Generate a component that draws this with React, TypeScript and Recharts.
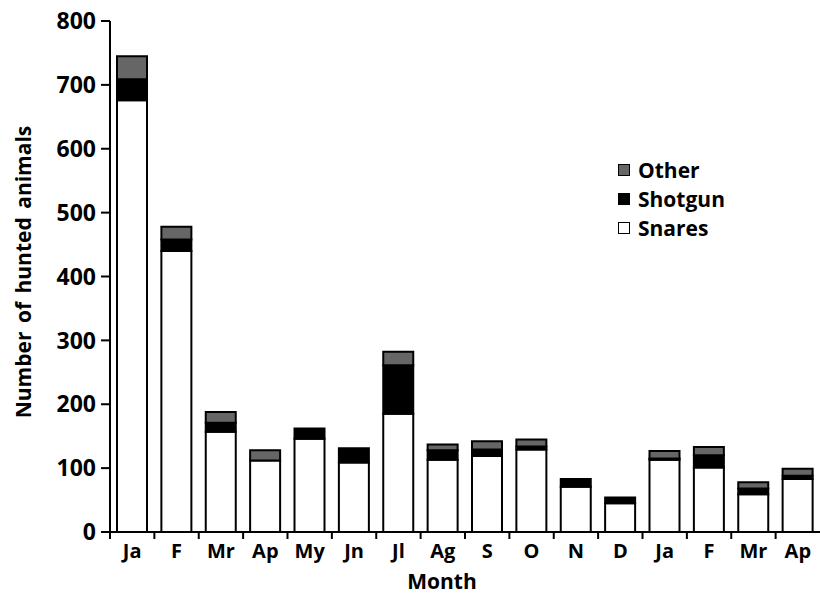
import React from "react";
import { Bar, BarChart, XAxis, YAxis } from "recharts";

const months: string[] = ["Ja", "F", "Mr", "Ap", "My", "Jn", "Jl", "Ag", "S", "O", "N", "D", "Ja", "F", "Mr", "Ap"];
const snares: number[] = [676, 440, 157, 112, 146, 109, 185, 113, 119, 129, 71, 45, 113, 101, 59, 83];
const shotgun: number[] = [33, 18, 14, 0, 16, 22, 76, 15, 10, 5, 12, 9, 2, 19, 9, 5];
const other: number[] = [36, 20, 17, 16, 0, 0, 21, 9, 13, 11, 0, 0, 12, 13, 10, 11];
const yTicks: number[] = [0, 100, 200, 300, 400, 500, 600, 700, 800];

const chartData = months.map((month, i) => ({
	month,
	Snares: snares[i],
	Shotgun: shotgun[i],
	Other: other[i],
}));

const W = 820;
const H = 595;
const LEFT = 110;
const STEP = (W - LEFT) / months.length;
const FONT = "'Open Sans', 'DejaVu Sans', sans-serif";

// legend rows, top to bottom
const legendItems = [
	{ name: "Other", fill: "#666666" },
	{ name: "Shotgun", fill: "#000000" },
	{ name: "Snares", fill: "#ffffff" },
];

const XTick = (props: any) => {
	const { x, y, payload } = props;
	const bx = x - STEP / 2;
	return (
		<g>
			<line x1={bx} x2={bx} y1={y} y2={y + 7} stroke="#000" strokeWidth={2} />
			<text
				x={x}
				y={y + 26}
				textAnchor="middle"
				fontFamily={FONT}
				fontWeight="bold"
				fontSize={20}
				fill="#000"
			>
				{payload.value}
			</text>
		</g>
	);
};

const LegendBox = () => (
	<div
		style={{
			position: "absolute",
			left: 618,
			top: 155,
			fontFamily: FONT,
			fontWeight: "bold",
			fontSize: 21,
			color: "#000",
		}}
	>
		{legendItems.map((item) => (
			<div key={item.name} style={{ display: "flex", alignItems: "center", height: 29 }}>
				<span
					style={{
						display: "inline-block",
						width: 10,
						height: 10,
						border: "1.5px solid #000",
						background: item.fill,
						marginRight: 8,
					}}
				/>
				<span>{item.name}</span>
			</div>
		))}
	</div>
);

export default function App() {
	return (
		<div style={{ position: "absolute", left: 0, top: 0, width: W, height: H, background: "#fff" }}>
			<BarChart
				width={W}
				height={H}
				data={chartData}
				margin={{ top: 21, right: 0, bottom: 0, left: 0 }}
				barSize={30}
			>
				<XAxis
					dataKey="month"
					height={63}
					stroke="#000"
					strokeWidth={2}
					tickLine={false}
					tickSize={0}
					tickMargin={0}
					tick={<XTick />}
					interval={0}
					label={(p: any) => (
						<text
							x={442}
							y={589}
							textAnchor="middle"
							fontFamily={FONT}
							fontWeight="bold"
							fontSize={21}
							fill="#000"
						>
							Month
						</text>
					)}
				/>
				<YAxis
					width={LEFT}
					domain={[0, 800]}
					ticks={yTicks}
					interval={0}
					stroke="#000"
					strokeWidth={2}
					tickSize={9}
					tickMargin={5}
					tick={{ fontFamily: FONT, fontWeight: "bold", fontSize: 23, fill: "#000" }}
					tickLine={{ stroke: "#000", strokeWidth: 2 }}
					label={(p: any) => (
						<text
							x={23}
							y={272}
							transform="rotate(-90, 23, 272)"
							textAnchor="middle"
							dominantBaseline="central"
							fontFamily={FONT}
							fontWeight="bold"
							fontSize={21}
							wordSpacing={3}
							fill="#000"
						>
							Number of hunted animals
						</text>
					)}
				/>
				<Bar dataKey="Snares" stackId="a" fill="#ffffff" stroke="#000" strokeWidth={2} isAnimationActive={false} />
				<Bar dataKey="Shotgun" stackId="a" fill="#000000" stroke="#000" strokeWidth={2} isAnimationActive={false} />
				<Bar dataKey="Other" stackId="a" fill="#666666" stroke="#000" strokeWidth={2} isAnimationActive={false} />
			</BarChart>
			<LegendBox />
		</div>
	);
}
